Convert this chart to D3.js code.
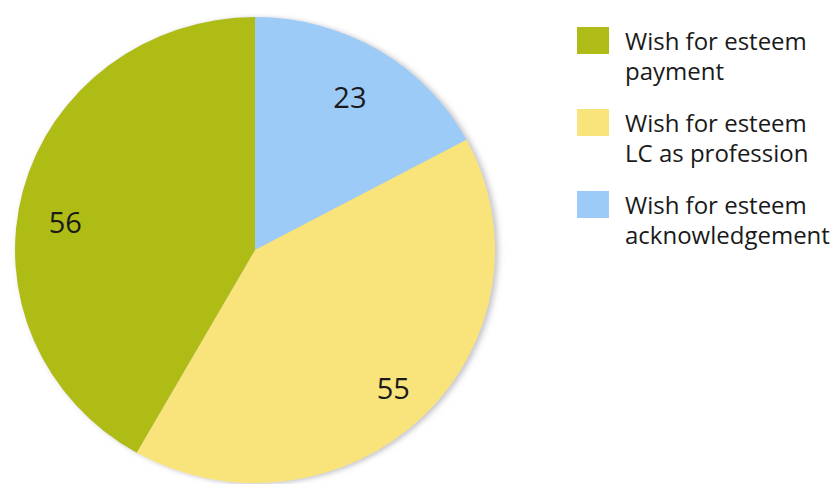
<!DOCTYPE html>
<html>
<head>
<meta charset="utf-8">
<script src="https://cdn.jsdelivr.net/npm/d3@7"></script>
<style>
  html, body { margin: 0; padding: 0; background: #ffffff; }
  svg { display: block; }
  text { font-family: "Open Sans", "DejaVu Sans", sans-serif; fill: #1a1a1a; }
</style>
</head>
<body>
<svg id="chart" width="834" height="484"></svg>
<script>
// Data (clockwise from 12 o'clock)
const categories = ["Wish for esteem acknowledgement", "Wish for esteem LC as profession", "Wish for esteem payment"];
const values = [23, 55, 56];
const colors = ["#9bcbf6", "#f9e47b", "#afbc18"];

// Legend order (as shown in the reference)
const legendLines = [
  ["Wish for esteem", "payment"],
  ["Wish for esteem", "LC as profession"],
  ["Wish for esteem", "acknowledgement"]
];
const legendColors = ["#afbc18", "#f9e47b", "#9bcbf6"];

const svg = d3.select("#chart");

const cx = 255, cy = 250, rx = 240, ry = 233;
const sy = ry / rx;

const defs = svg.append("defs");
const f = defs.append("filter").attr("id", "shadow")
  .attr("x", "-10%").attr("y", "-10%").attr("width", "120%").attr("height", "120%");
f.append("feDropShadow").attr("dx", 3).attr("dy", 1).attr("stdDeviation", 3)
  .attr("flood-color", "#8a8a99").attr("flood-opacity", 0.55);

const pie = d3.pie().sort(null).value(d => d).startAngle(0).endAngle(2 * Math.PI);
const arcs = pie(values);
const arc = d3.arc().innerRadius(0).outerRadius(rx);

const g = svg.append("g")
  .attr("transform", `translate(${cx},${cy}) scale(1,${sy})`);

g.append("g").attr("filter", "url(#shadow)")
  .selectAll("path")
  .data(arcs)
  .join("path")
  .attr("d", arc)
  .attr("fill", (d, i) => colors[i]);

// Value labels: placed along each slice's mid-angle (radius fraction, angle shift in degrees)
const labelRadius = [0.77, 0.825, 0.80];
const labelShift = [0, 0, -6];
const lbl = svg.append("g");
arcs.forEach((d, i) => {
  const a = (d.startAngle + d.endAngle) / 2 + labelShift[i] * Math.PI / 180;
  const r = rx * labelRadius[i];
  const x = cx + Math.sin(a) * r;
  const y = cy - Math.cos(a) * r * sy;
  lbl.append("text")
    .attr("x", x)
    .attr("y", y)
    .attr("text-anchor", "middle")
    .attr("dominant-baseline", "central")
    .attr("font-size", 29)
    .text(values[i]);
});

// Legend
const legend = svg.append("g");
const itemY = [27, 109, 191];
legendLines.forEach((lines, i) => {
  const gi = legend.append("g").attr("transform", `translate(577,${itemY[i]})`);
  gi.append("rect").attr("x", 0).attr("y", 0).attr("width", 32).attr("height", 27)
    .attr("fill", legendColors[i]);
  const t = gi.append("text")
    .attr("x", 48)
    .attr("y", 23)
    .attr("font-size", 24);
  lines.forEach((s, j) => {
    t.append("tspan")
      .attr("x", 48)
      .attr("dy", j === 0 ? 0 : 30)
      .text(s);
  });
});
</script>
</body>
</html>
